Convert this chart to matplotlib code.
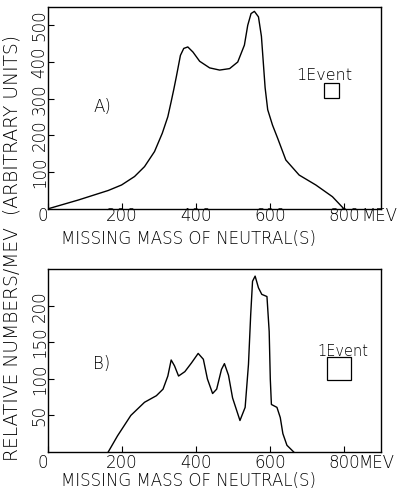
"""
Missing mass spectra, panels A) and B)
"""

import matplotlib.pyplot as plt

##################################################
# Data
mass_a = [0, 82, 163, 199, 234, 261, 288, 309, 324, 333, 340, 347, 358,
          367, 378, 392, 410, 437, 464, 491, 513, 531, 540, 549, 558, 569,
          577, 582, 587, 594, 607, 621, 643, 679, 724, 769, 800]
yield_a = [0, 24, 50, 65, 88, 115, 156, 206, 251, 292, 325, 360, 418,
           437, 441, 427, 402, 384, 378, 382, 400, 446, 500, 532, 538, 523,
           470, 400, 330, 270, 228, 192, 133, 92, 65, 33, 0]

mass_b = [163, 188, 224, 261, 293, 311, 324, 333, 342, 353, 370, 388, 406,
          420, 431, 445, 456, 469, 477, 488, 499, 519, 533, 542, 548, 553,
          560, 569, 578, 592, 598, 601, 604, 619, 628, 635, 646, 664]
yield_b = [0, 22, 50, 68, 77, 86, 104, 126, 118, 104, 110, 122, 135,
           127, 100, 80, 86, 113, 121, 105, 74, 43, 61, 120, 188, 234,
           241, 225, 216, 213, 165, 100, 65, 61, 47, 25, 9, 0]

xticks = [0, 200, 400, 600, 800]
yticks_a = [100, 200, 300, 400, 500]
yticks_b = [50, 100, 150, 200]

##################################################
# Plot
fig = plt.figure(figsize=(3.98, 4.96), dpi=100)
ax_a = fig.add_axes([0.1206, 0.579, 0.8364, 0.407])
ax_b = fig.add_axes([0.1206, 0.089, 0.8364, 0.369])

font = dict(family="DejaVu Sans", weight="light")


def style(ax, yticks, ylim, xpad):
    ax.set_xlim(0, 900)
    ax.set_ylim(0, ylim)
    ax.set_xticks(xticks)
    labels = ax.set_xticklabels([str(v) for v in xticks], size=12, **font)
    labels[0].set_ha("right")
    ax.set_yticks(yticks)
    ax.set_yticklabels([str(v) for v in yticks], size=12, rotation=90,
                       va="center", **font)
    ax.tick_params(direction="in", length=4, width=0.8)
    ax.tick_params(axis="x", pad=xpad)
    ax.tick_params(axis="y", pad=-0.5)
    for s in ax.spines.values():
        s.set_linewidth(1.0)


def mev(ax, x, pad):
    # unit label sits on the tick label line, right of "800"
    h = ax.get_window_extent().height * 72 / fig.dpi
    ax.text(x, -pad / h, "MEV", transform=ax.transAxes, size=12,
            ha="left", va="top", **font)


ax = ax_a
ax.plot(mass_a, yield_a, color="black", lw=1.0)
style(ax, yticks_a, 550, -1)
ax.text(148, 277, "A)", size=12, ha="center", va="center", **font)
ax.text(747, 364, "1Event", size=11.5, ha="center", va="center", **font)
ax.add_patch(plt.Rectangle((747, 303), 40, 39, fill=False, lw=0.9))
mev(ax, 0.94, -1)
ax.text(0.423, -0.148, "MISSING MASS OF NEUTRAL(S)", transform=ax.transAxes,
        size=12, ha="center", va="center", **font)

ax = ax_b
ax.plot(mass_b, yield_b, color="black", lw=1.0)
style(ax, yticks_b, 251, 1.3)
ax.text(146, 120, "B)", size=12, ha="center", va="center", **font)
ax.text(798, 138, "1Event", size=10.5, ha="center", va="center", **font)
ax.add_patch(plt.Rectangle((755, 98), 63, 32, fill=False, lw=0.9))
mev(ax, 0.933, 1.3)
ax.text(0.423, -0.158, "MISSING MASS OF NEUTRAL(S)", transform=ax.transAxes,
        size=12, ha="center", va="center", **font)

fig.text(0.03, 0.501, "RELATIVE NUMBERS/MEV  (ARBITRARY UNITS)",
         rotation=90, ha="center", va="center", size=13.5, **font)

fig.savefig("out.png", dpi=100)
